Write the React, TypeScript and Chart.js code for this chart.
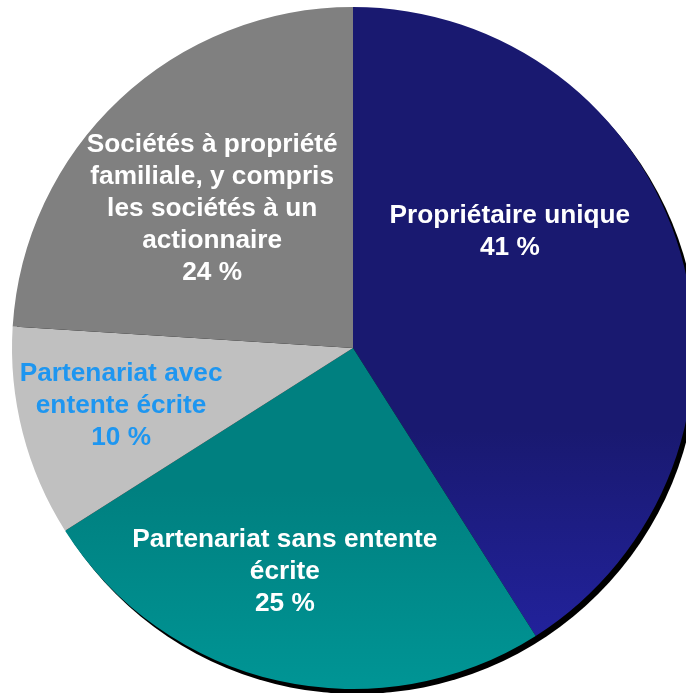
import React, { useEffect, useRef } from "react";
import { Chart, registerables } from "chart.js";

Chart.register(...registerables);

const categories = [
  "Propriétaire unique",
  "Partenariat sans entente écrite",
  "Partenariat avec entente écrite",
  "Sociétés à propriété familiale, y compris les sociétés à un actionnaire",
];
const shares = [41, 25, 10, 24];
const labelLines = [
  ["Propriétaire unique"],
  ["Partenariat sans entente", "écrite"],
  ["Partenariat avec", "entente écrite"],
  ["Sociétés à propriété", "familiale, y compris", "les sociétés à un", "actionnaire"],
];
const percentLabels = ["41 %", "25 %", "10 %", "24 %"];

// styles
const sliceTop = ["#191970", "#008080", "#C0C0C0", "#808080"];
const sliceBottom = ["#2424A6", "#009595", "#C0C0C0", "#808080"];
const gradStart = [430, 490, 0, 0];
const textColors = ["#FFFFFF", "#FFFFFF", "#1E96F0", "#FFFFFF"];
// label block centre, as a fraction of the radius from the pie centre
const labelOffsets = [
  [0.46, -0.34],
  [-0.2, 0.657],
  [-0.68, 0.17],
  [-0.413, -0.408],
];

const shadowPlugin = {
  id: "pieShadow",
  beforeDatasetsDraw(chart: any) {
    const arc = chart.getDatasetMeta(0).data[0];
    if (!arc) return;
    const { x, y, outerRadius } = arc;
    const c = chart.ctx;
    c.save();
    c.fillStyle = "#000000";
    c.beginPath();
    c.arc(x + 4, y + 5, outerRadius, 0, Math.PI * 2);
    c.fill();
    c.restore();
  },
};

const labelPlugin = {
  id: "pieLabels",
  afterDatasetsDraw(chart: any) {
    const meta = chart.getDatasetMeta(0);
    const c = chart.ctx;
    const lineH = 32;
    meta.data.forEach((arc: any, i: number) => {
      const lines = [...labelLines[i], percentLabels[i]];
      const cx = arc.x + labelOffsets[i][0] * arc.outerRadius;
      const cy = arc.y + labelOffsets[i][1] * arc.outerRadius;
      const top = cy - ((lines.length - 1) * lineH) / 2;
      c.save();
      c.font = "bold 25px 'Liberation Sans', Arial, sans-serif";
      c.fillStyle = textColors[i];
      c.textAlign = "center";
      c.textBaseline = "middle";
      lines.forEach((ln, k) => {
        c.save();
        c.translate(cx, top + k * lineH);
        c.scale(1.05, 1);
        c.fillText(ln, 0, 0);
        c.restore();
      });
      c.restore();
    });
  },
};

export default function App() {
  const ref = useRef<HTMLCanvasElement>(null);
  useEffect(() => {
    document.body.style.margin = "0";
    const canvas = ref.current!;
    const chart = new Chart(canvas, {
      type: "pie",
      data: {
        labels: categories,
        datasets: [
          {
            data: shares,
            borderWidth: 0,
            backgroundColor: (ctx: any) => {
              const i = ctx.dataIndex;
              const ch = ctx.chart;
              if (!ch.chartArea || sliceTop[i] === sliceBottom[i]) return sliceTop[i];
              const g = ch.ctx.createLinearGradient(0, gradStart[i], 0, ch.chartArea.bottom);
              g.addColorStop(0, sliceTop[i]);
              g.addColorStop(1, sliceBottom[i]);
              return g;
            },
          },
        ],
      },
      options: {
        responsive: false,
        animation: false,
        devicePixelRatio: 1,
        layout: { padding: { left: 12, top: 7, right: 0, bottom: 4 } },
        plugins: {
          legend: { display: false },
          tooltip: { enabled: false },
          title: { display: false },
        },
      },
      plugins: [shadowPlugin, labelPlugin],
    });
    return () => chart.destroy();
  }, []);
  return (
    <div style={{ width: 686, height: 693, overflow: "hidden", position: "relative", background: "#fff" }}>
      <canvas ref={ref} width={694} height={693} style={{ display: "block" }} />
    </div>
  );
}
